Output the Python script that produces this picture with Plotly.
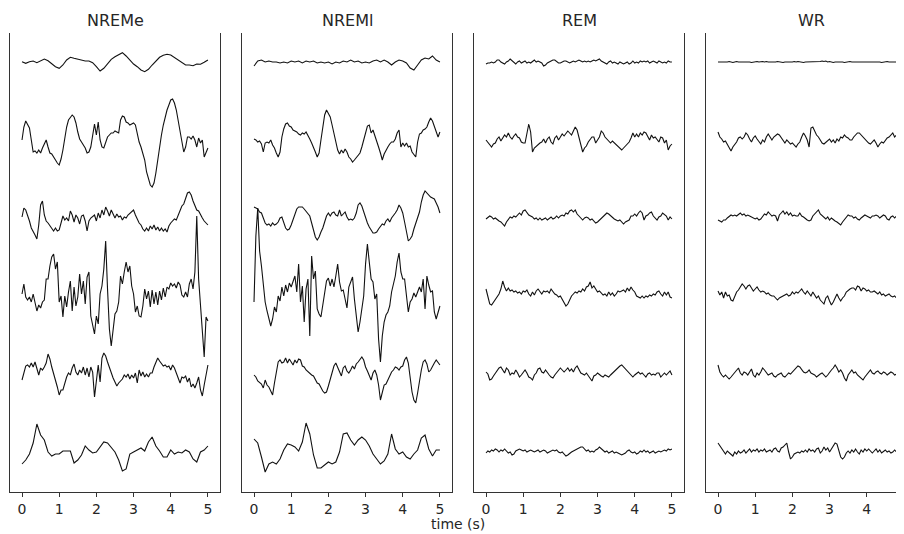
import numpy as np
import plotly.graph_objects as go

# ---------------- data (amplitudes, arbitrary units; 1 unit ~ 1 px) ----------------
STAGES = ["NREMe", "NREMl", "REM", "WR"]
TICKS = [0, 1, 2, 3, 4, 5]
X_LABEL = "time (s)"

nreme_1 = [0.3, -1.3, 0.3, 1, -0.7, 1.3, 3, 1.3, -2, -4.7,
           -6.3, -3, 2, 4.7, 3.7, 2.7, 2, 1, 1, -0.7,
           -4.7, -9, -6.3, -1.3, 2.7, 5.3, 7.7, 9.3, 6, 2,
           -2, -4.7, -8, -9.7, -7.3, -3, 1.3, 4.7, 6.7, 7.7,
           7, 4.7, 2, -0.7, -3, -3, -3.7, -2, -2.3, -0.3, 2]
nreme_2 = [0, 13, 19, 16, 12, 0, -12, -11, -13, -10, -13, -8, -3, 0, -7, -13, -14, -17, -21, -23,
           -25, -19, -10, 3, 13, 20, 23, 25, 23, 17, 8, 1, -2, -5, -8, -13, -12, -7, 3, 16,
           5, 18, 0, -7, -8, -3, 3, 5, 7, 7, 9, 8, 7, 20, 24, 23, 18, 17, 15, 16,
           17, 15, 5, -2, -7, -13, -20, -32, -40, -45, -47, -43, -33, -19, -7, 5, 15, 24, 30, 35,
           40, 41, 37, 30, 20, 8, -2, -12, -7, 3, 3, 1, 4, 0, -7, 2, -3, 0, -17, -12, -8]
nreme_3 = [1, 10, 8, 3, -3, -10, -13, -17, -21, -7, 13, 17, 3, -3, -5, -8, -10, -13, -10, -13,
           -12, -5, 2, -2, 0, -3, 7, 3, -4, 3, 0, -6, 2, 3, -3, -13, -3, 0, 2, 3,
           -3, 5, 0, 8, 3, 11, 7, 2, 8, 3, 0, 4, 1, 2, -2, 1, 0, 3, 5, 7,
           8, 3, -2, -5, -7, -11, -13, -10, -13, -8, -11, -7, -12, -9, -13, -10, -13, -11, -14, -8,
           -5, -3, -1, -2, 3, 7, 12, 14, 20, 25, 26, 23, 17, 13, 8, 7, 3, 0, -3, -5, -7]
nreme_4 = [2, 12, -1, -4, -1, -6, 2, -8, -15, -9, -12, -6, -4, 17, 17, 30, 39, 42, 27, 34,
           -6, 0, -21, 0, -11, 4, 15, -15, 9, -10, -1, 22, 2, 15, -8, 19, 24, -20, -31, -38,
           -20, -28, 2, 10, 27, 55, 7, -33, -50, -30, -18, -15, -6, 20, 12, 24, 34, 24, 30, 10,
           2, -16, -10, -20, -21, -10, 7, -3, 5, -11, 6, -8, 4, -9, 5, -4, 8, -1, 9, 7,
           13, 10, 12, 8, 14, 11, 1, -1, 4, -1, 12, 17, 7, 24, 80, 17, -12, -33, -61, -21, -25]
nreme_5 = [-6, 2, 8, 9, 7, 11, 7, 12, 4, -1, 6, 4, 7, 11, 20, 15, 7, 1, -6, -13,
           -21, -16, -16, -8, -3, 1, -1, 6, 10, 2, -1, 4, 1, 7, -1, 6, -3, 7, 2, -23,
           -6, 9, -8, 16, 21, 18, 12, 6, 2, -4, -8, -12, -9, -7, -5, -1, -3, 0, -5, -1,
           -4, 1, -9, 4, -2, 2, -3, 0, -3, 1, 1, 7, 12, 16, 13, 11, 8, 9, 7, 8,
           4, 9, 6, 1, -4, -9, -3, -4, -2, -8, -4, -13, -10, -14, -9, -3, -16, -22, -11, 1, 9]
nreme_6 = [-12, -8, -2, 9, 28, 17, 12, 0, -4, -2,
           -2, 1, 1, 1, -11, -8, -3, 6, 2, -1,
           0, 5, 10, 9, 4, 0, -8, -19, -17, -2,
           0, 2, 4, 1, 10, 15, 6, 1, -5, -5,
           2, -2, 0, -1, 2, 0, -7, -10, 0, 2, 6]

nreml_1 = [-4, 1, 2, 0, 1, 0, 0, -1, 0, -1,
           1, 0, 1, -1, 1, 0, 1, -1, 0, -1,
           0, -2, 0, -1, 1, 0, 2, 0, 1, -1,
           0, -1, 1, 2, 0, 2, 0, -3, 0, 2,
           1, -1, -6, -8, -3, 2, 4, 3, 6, 2, 0]
nreml_2 = [1, 0, -2, -1, -4, -12, -3, -2, -3, 0, -5, -8, -13, -17, -12, 3, 11, 16, 17, 14,
           13, 10, 9, 8, 6, 5, 7, 6, 8, 5, 1, -3, -7, -12, -17, -13, 0, 14, 25, 30,
           26, 23, 15, 7, -4, -10, -14, -10, -13, -9, -12, -17, -19, -22, -20, -18, -16, -13, -7, 1,
           9, 14, 15, 7, 10, 5, 0, -7, -13, -20, -14, -10, -7, -4, -2, -2, 1, 7, 10, -7,
           -3, -6, -3, -7, -6, -12, -14, -17, -2, 6, 7, 10, 11, 13, 18, 22, 19, 13, 7, 3, 8]
nreml_3 = [11, 10, 9, 6, 5, 0, -5, -7, -6, -8, -5, -7, -6, -4, 0, 1, -5, -10, -12, -11,
           -7, -1, 5, 9, 11, 11, 11, 9, 7, 5, 2, -5, -12, -19, -22, -19, -14, -10, -4, 2,
           5, 2, 5, 6, 3, 2, 8, 2, 4, 6, 1, -2, -1, -2, 0, 5, 13, 15, 12, 6,
           1, -5, -9, -12, -15, -15, -14, -11, -9, -6, -7, -3, -1, -4, 0, 2, 5, 8, 13, 10,
           5, -4, -15, -23, -21, -18, -11, -6, 0, 6, 16, 23, 27, 25, 22, 21, 20, 19, 15, 11, 5]
nreml_4 = [-6, 60, 88, 45, 30, 10, -6, -15, -23, -30, -23, -11, -16, 0, -5, 9, 0, 11, 4, 13,
           9, 14, 20, 4, 32, -6, 10, -26, 7, 17, -40, 40, 17, 25, -13, -18, -21, -9, 4, 15,
           18, 10, 17, 9, 20, 32, 14, 5, 6, -3, -12, 9, 15, 19, -3, -23, -36, -26, -15, 0,
           32, 52, 34, 17, 14, -3, 2, -43, -66, -40, -26, -19, -16, -10, 4, 12, 20, 34, 43, 24,
           17, 17, -3, -16, -6, -3, 3, -1, 4, 9, 4, 17, -13, 20, 11, 4, 5, -16, -23, -15, -10]
nreml_5 = [-1, -3, -7, -9, -10, -14, -6, -11, -13, -17, -21, -9, 1, 12, 14, 11, 12, 16, 11, 15,
           12, 9, 14, 11, 15, 14, 8, 7, 4, 2, 1, -1, -2, -6, -9, -10, -14, -17, -19, -18,
           -12, -6, 1, 8, 11, 6, 1, -2, 6, 8, 3, 1, 4, 8, 5, 10, 12, 15, 17, 14,
           7, 3, -1, -6, 1, 4, -1, -11, -26, -19, -11, -10, -6, -1, 2, 4, 7, 6, 4, 7,
           8, 14, 17, 11, -3, -18, -26, -29, -19, -6, 4, 12, 14, 10, 2, 4, 8, 11, 14, 12, 9]
nreml_6 = [13, 9, -5, -20, -12, -10, -12, -7, 2, 8,
           7, 5, 1, 10, 29, 18, -3, -16, -16, -13,
           -10, -12, -10, 0, 18, 19, 12, 7, 12, 15,
           12, 6, -2, -7, -12, -9, -2, 18, 3, -2,
           0, -5, -7, -2, 2, 14, 17, 3, -4, 2, 2]

rem_1 = [-2, -1, -1, 0, -1, 0, 2, 2, 0, -1, -2, 0, 1, 3, 1, -1, -2, 0, 1, -1,
         0, 1, -1, 0, -1, 1, 2, 0, 1, 0, -1, -4, -3, -1, 0, 1, 2, 2, 0, -1,
         -1, 0, 1, 1, 0, -1, 0, 1, 0, 1, 2, 1, 0, 1, 0, 1, 0, 1, 2, 1,
         2, 3, 1, 0, -1, -2, 0, 1, -1, 0, -1, -2, 0, -1, -2, -1, 0, -2, -1, 1,
         -1, 0, -1, 1, 0, 1, 0, 1, -1, 0, 1, 0, -1, 1, 0, -1, 0, -1, 1, 0, 0]
rem_2 = [0, -2, -4, -7, -4, -3, 1, 3, -1, 2, 5, 3, 7, 3, 1, 4, 6, 3, 2, -2,
         -3, -3, 7, 16, 8, -12, -8, -6, -4, -3, -2, 1, -3, 1, 3, -2, -4, 2, 4, 0,
         3, 6, 4, 7, 9, 7, 5, 9, 13, 10, 3, -3, -12, -8, -6, -2, 1, 3, 3, -3,
         0, 3, 9, 7, 3, 1, 0, -3, -1, -3, -5, -7, -9, -10, -8, -6, -3, -2, 2, 7,
         3, 6, 3, 7, 5, 8, 7, 3, 0, 5, 2, 3, 0, -2, 3, 2, -3, 0, -10, -6, -4]
rem_3 = [-1, 1, 2, 1, -1, 0, -2, -3, -4, -6, -8, -4, -2, 1, 0, 2, 1, 3, 5, 3,
         7, 8, 5, 3, 2, 1, -1, 0, -2, 0, -2, -1, 0, -2, 0, 1, -1, 0, 2, 0,
         2, 3, 2, 5, 4, 7, 8, 6, 8, 4, 2, 0, -2, 0, 1, 0, -2, -1, -3, -5,
         -4, -2, 0, 2, 3, 5, 4, 2, 1, -1, -2, -3, -2, -4, -6, -4, -3, -2, 2, 2,
         4, 2, 5, 7, 5, -2, 2, 3, 5, 6, 2, 0, -2, 1, 2, 5, 3, 2, -2, 1, -1]
rem_4 = [7, -2, -8, -9, -6, -3, 0, 2, 7, 15, 9, 5, 8, 5, 6, 4, 5, 3, 4, 2,
         5, 4, 6, 2, 0, 4, 1, 5, 7, 4, 2, 5, 4, 5, 3, 7, 4, 2, 1, -1,
         0, -3, -6, -10, -8, -3, 0, 2, 4, 3, 5, 4, 7, 5, 9, 10, 14, 8, 10, 7,
         4, 5, 3, 1, 2, 0, 4, 1, 3, 0, 2, 5, 4, 5, 6, 4, 8, 5, 9, 6,
         4, 0, -1, -2, 0, -2, 0, -1, 1, 0, 2, 1, 4, 5, 2, 0, 4, 1, 4, -1, -2]
rem_5 = [2, 0, -6, -5, -2, 1, 3, 6, 7, 4, 1, 6, 4, -1, 1, 0, 4, 1, -3, -1,
         1, 4, 1, -3, -4, -6, -1, 1, 5, 6, 2, 1, 4, 1, -1, -3, -4, -1, 1, 3,
         6, 4, 2, 4, 6, 3, 5, 2, 6, 8, 5, 1, 0, -1, 1, -2, -4, -7, -2, -1,
         1, -1, -2, -3, -1, -2, -3, -1, 1, 2, 4, 6, 8, 9, 7, 5, 3, 1, -1, -3,
         -1, 1, 2, 0, 1, -1, -3, 0, 1, -1, 0, -1, 1, 1, -3, -1, 1, -1, 1, 3, -1]
rem_6 = [-1, 1, 0, 2, 1, 3, 2, 0, 2, 1, 3, 1, -1, 0, -3, -2, 1, 2, 3, 2,
         1, 2, 0, 1, 2, 1, 0, 1, 2, 0, 1, 2, 1, -1, 0, 1, 2, 1, 2, 0,
         -1, 0, -2, -4, -3, -1, 0, 1, 2, 3, 4, 5, 5, 3, 1, 2, 0, 1, 0, 2,
         3, 5, 3, 2, 0, 1, -1, 0, 1, -1, 0, -1, -2, -3, -2, -1, 1, 2, 0, -1,
         0, -2, -1, 1, 0, 2, 0, 1, -1, 0, 1, -1, 0, 1, 0, 1, 2, 1, 3, 2, 3]

wr_1 = [0, 0, -0.5, 0, -0.5, 0, 0.5, 0, -0.5, 0, 0.5, 0, 0, 0.5, 0, 0.5, 0, 0, -0.5, 0,
        0, 0.5, 0, 0.5, 0.5, 0, 0.5, 0, 0, -0.5, 0, 0, 0.5, 0, 0, -0.5, 0, 0, -0.5, 0,
        0, 0.5, 0, 0.5, 0, 0, -0.5, 0, 0, 0.5, 0, 0, 0.5, 0, 0, 0.5, 1, 0.5, 1, 0,
        0.5, 0, -0.5, 0, 0, 0.5, 0, 0, -0.5, 0, 0, 0.5, 0, 0, 0.5, 0, 0, 0.5, 0, 0.5,
        0, 0, 0.5, 0, 0, 0.5, 0, 0, -0.5, 0, 0, 0.5, 0, 0, -0.5, 0, 0, 0.5, 0, 0, 0]
wr_2 = [8, 3, 1, -2, -1, -4, -7, -11, -7, -5, -2, 2, 3, 1, 3, 7, 5, 1, -2, 2,
        4, 1, -2, -4, 0, -2, 3, 6, 3, 0, 3, 5, 6, 5, 2, 0, -3, 0, -2, -4,
        -3, -5, -7, -4, -2, 3, 7, 4, 0, -7, 12, 13, 8, 5, 3, 0, -3, -4, -2, 0,
        1, -2, 0, -3, 1, -1, 3, 2, 5, 3, 2, 0, 0, 3, 5, 7, 7, 5, 3, 1,
        -2, -3, -4, -2, 0, -3, -7, -4, -2, -3, 0, 2, 3, 5, 7, 3, 5, 7, 5, 3, 7]
wr_3 = [-2, -3, -4, -2, -2, 0, 2, 3, 2, 3, 2, 4, 5, 3, 4, 2, 3, 2, 1, 0,
        -1, 0, -2, -1, 2, 4, 3, 6, 4, 2, 3, 2, -3, 3, 5, 7, 4, 6, 3, 5,
        2, 3, 2, 2, 5, 2, 1, -1, -2, -3, -2, 2, 4, 7, 8, 4, 2, 1, -1, 1,
        -2, 0, -2, -3, -4, -6, -7, -4, -2, 1, 3, 2, 2, 0, 1, -1, -2, 0, 2, 3,
        2, 1, 0, 2, 2, 3, 2, 0, 2, 3, 2, -1, -2, 1, 2, 0, 2, 3, 5, 3, 2]
wr_4 = [5, 1, 4, -2, 4, 0, 1, -4, -5, 0, 4, 6, 9, 12, 10, 7, 10, 11, 8, 5,
        7, 9, 6, 4, 5, 4, 2, 3, 1, 0, 0, -2, -4, -2, -1, 0, 1, 2, 0, 1,
        4, 2, 4, 3, 5, 7, 4, 2, 5, 3, 0, 4, 1, -2, 0, -4, -6, -8, -2, 0,
        -5, -9, -6, -1, 2, -2, -5, -2, 0, 4, 6, 7, 8, 8, 6, 10, 9, 5, 8, 7,
        5, 6, 4, 4, 5, 3, 2, 4, 1, 2, 0, 1, 2, 0, -1, 0, -2, 0, -3, 2, 5]
wr_5 = [9, 2, -1, -3, -1, -3, -5, -3, -1, 1, 4, 6, 1, -1, 2, 1, -1, 2, 5, -1,
        -3, 1, -1, 2, 6, 4, 2, -1, 0, 1, -2, -3, -1, 0, 1, -2, -3, -1, 1, 0,
        2, 4, 6, 8, 7, 4, 2, 1, 2, 4, 1, 0, -1, -3, -1, 0, 1, -1, -3, -1,
        2, 4, 6, 9, 6, 2, 4, 1, -4, -7, -1, 2, 4, 1, 2, -1, -3, -4, -6, -3,
        -1, 2, 4, 1, 0, 2, 3, 1, 0, 2, 1, -1, 1, 2, 1, -1, 0, 1, -1, 0, -1]
wr_6 = [9, 6, 4, 0, -2, 1, -1, -3, -4, 0, -2, 1, -1, 0, 2, -1, 1, 3, 0, 2,
        1, 3, 0, 2, 1, 3, 0, 1, 2, 0, 3, 4, 1, 0, 4, 5, 7, 9, 0, -7,
        -5, -2, -1, 0, -1, 1, 0, 2, 0, 3, 1, 2, 0, 3, 4, -1, 1, 5, 2, 4,
        0, 3, 5, 9, 8, 0, -5, -7, -5, -1, 1, -1, 2, 0, 3, 0, -2, 2, 0, 3,
        1, 3, 1, -1, 1, 3, 0, 2, -1, 1, 2, 0, 1, -1, 0, 2, 0, 1, 0, 1, 4]

SIGNALS = {
    "NREMe": [nreme_1, nreme_2, nreme_3, nreme_4, nreme_5, nreme_6],
    "NREMl": [nreml_1, nreml_2, nreml_3, nreml_4, nreml_5, nreml_6],
    "REM": [rem_1, rem_2, rem_3, rem_4, rem_5, rem_6],
    "WR": [wr_1, wr_2, wr_3, wr_4, wr_5, wr_6],
}

# ---------------- layout constants ----------------
# The page body has an 8 px default margin, so the figure is made 8 px smaller
# and every target position is given relative to the figure's own origin.
BODY = 8
W, H = 904 - BODY, 534 - BODY
PLOT_TOP, PLOT_BOTTOM = 33 - BODY, 492 - BODY
PANEL_LEFT = [10 - BODY, 242 - BODY, 474 - BODY, 706 - BODY]
PANEL_W = 210
ML, MR, MT, MB = PANEL_LEFT[0], 0, PLOT_TOP, H - PLOT_BOTTOM
PW = W - ML - MR
X_PAD = 0.323
PX_PER_S = PANEL_W / (5 + 2 * X_PAD)
ROW_GAP = 78
Y_RANGE = [-430, 29]
AX_COLOR = "#333333"
TXT_COLOR = "#262626"
FONT = "DejaVu Sans"
XLABEL_X, XLABEL_Y = 458 - BODY, 524 - BODY

fig = go.Figure()

for p, stage in enumerate(STAGES):
    xa = "x" if p == 0 else f"x{p + 1}"
    ya = "y" if p == 0 else f"y{p + 1}"
    for r, sig in enumerate(SIGNALS[stage]):
        v = np.asarray(sig, dtype=float)
        t = np.linspace(0, 5, len(v))
        fig.add_trace(go.Scatter(
            x=t, y=v - r * ROW_GAP, mode="lines",
            line=dict(color="#111111", width=1.1),
            xaxis=xa, yaxis=ya, showlegend=False, hoverinfo="skip"))

layout = dict(
    width=W, height=H,
    margin=dict(l=ML, r=MR, t=MT, b=MB, pad=0),
    paper_bgcolor="white", plot_bgcolor="white",
    font=dict(family=FONT, color=TXT_COLOR, size=14),
    showlegend=False,
)

annotations = []
for p, stage in enumerate(STAGES):
    left = PANEL_LEFT[p]
    d0 = (left - ML) / PW
    d1 = min(1.0, (left + PANEL_W - ML) / PW)
    width_px = (d1 - d0) * PW
    xr = [-X_PAD, -X_PAD + width_px / PX_PER_S + 0.002]
    sfx = "" if p == 0 else str(p + 1)
    top_id = str(p + 5)
    layout[f"xaxis{sfx}"] = dict(
        domain=[d0, d1], range=xr, anchor=f"y{sfx}",
        tickmode="array", tickvals=TICKS, ticktext=[str(v) for v in TICKS],
        ticks="outside", ticklen=4, tickwidth=1, tickcolor=AX_COLOR,
        showline=True, linecolor=AX_COLOR, linewidth=1, mirror=False,
        showgrid=False, zeroline=False, automargin=False,
        ticklabeloverflow="allow",
        tickfont=dict(size=14, color=TXT_COLOR, family=FONT),
    )
    layout[f"xaxis{top_id}"] = dict(
        domain=[d0, d1], range=xr, anchor=f"y{sfx}",
        overlaying=f"x{sfx}", side="top",
        tickmode="array", tickvals=TICKS,
        ticks="inside", ticklen=4, tickwidth=1, tickcolor=AX_COLOR,
        showticklabels=False,
        showline=True, linecolor=AX_COLOR, linewidth=1,
        showgrid=False, zeroline=False,
    )
    layout[f"yaxis{sfx}"] = dict(
        domain=[0, 1], range=Y_RANGE, anchor=f"x{sfx}",
        showline=True, linecolor=AX_COLOR, linewidth=1,
        mirror=(p < 3), ticks="", showticklabels=False,
        showgrid=False, zeroline=False,
    )
    annotations.append(dict(
        text=stage, xref="paper", yref="paper",
        x=(left + PANEL_W / 2 - ML) / PW, y=1,
        xanchor="center", yanchor="bottom", yshift=1, showarrow=False,
        font=dict(size=16, color=TXT_COLOR, family=FONT)))

annotations.append(dict(
    text=X_LABEL, xref="paper", yref="paper",
    x=(XLABEL_X - ML) / PW, y=0, xanchor="center", yanchor="middle",
    yshift=-(XLABEL_Y - PLOT_BOTTOM), showarrow=False,
    font=dict(size=14, color=TXT_COLOR, family=FONT)))

layout["annotations"] = annotations
fig.update_layout(**layout)

fig.write_html("out.html")
